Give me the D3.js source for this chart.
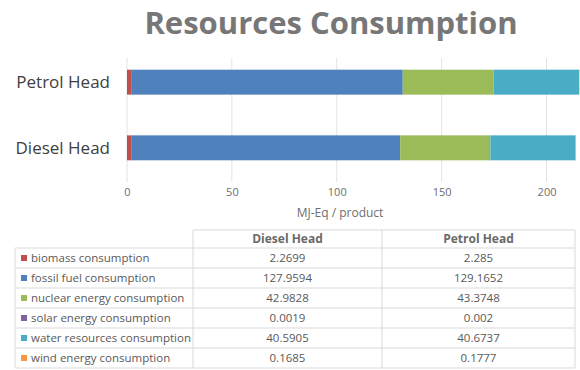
<!DOCTYPE html>
<meta charset="utf-8">
<head>
  <title>Resources Consumption</title>
</head>
<style>
    body {
        margin: 0;
        background-color: #ffffff;
    }
    svg text {
        font-family: "Open Sans", Lato, sans-serif;
    }
</style>
<body>
    <svg id="chart" width="580" height="370"></svg>

    <script src="https://cdn.jsdelivr.net/npm/d3@7/dist/d3.min.js"></script>
    <script>
        // chart data
        var products = ["Petrol Head", "Diesel Head"];
        var tableProducts = ["Diesel Head", "Petrol Head"];
        var resources = ["biomass consumption", "fossil fuel consumption", "nuclear energy consumption",
                         "solar energy consumption", "water resources consumption", "wind energy consumption"];
        var dieselValues = [2.2699, 127.9594, 42.9828, 0.0019, 40.5905, 0.1685];
        var petrolValues = [2.285, 129.1652, 43.3748, 0.002, 40.6737, 0.1777];
        var dieselLabels = ["2.2699", "127.9594", "42.9828", "0.0019", "40.5905", "0.1685"];
        var petrolLabels = ["2.285", "129.1652", "43.3748", "0.002", "40.6737", "0.1777"];
        var xTicks = [0, 50, 100, 150, 200];
        var colors = ["#c0504d", "#4f81bd", "#9bbb59", "#8064a2", "#4bacc6", "#f79646"];

        var svg = d3.select("#chart");

        var x = d3.scaleLinear()
            .domain([0, 215])
            .range([127, 578]);

        var y = d3.scaleBand()
            .domain(products)
            .range([50, 180])
            .paddingInner(0.62)
            .paddingOuter(0.3);

        var color = d3.scaleOrdinal(resources, colors);

        // title
        svg.append("text")
            .attr("x", 331)
            .attr("y", 34)
            .attr("text-anchor", "middle")
            .style("font-size", "31px")
            .style("font-weight", "bold")
            .style("fill", "#777777")
            .text("Resources Consumption");

        // gridlines
        svg.append("g")
            .selectAll("line")
            .data(xTicks)
            .enter()
            .append("line")
            .attr("x1", function(d) { return x(d); })
            .attr("x2", function(d) { return x(d); })
            .attr("y1", 58)
            .attr("y2", 182)
            .style("stroke", "#e3e3e3")
            .style("stroke-width", 1);

        // stacked bars
        var rows = products.map(function(p) {
            var vals = p === "Diesel Head" ? dieselValues : petrolValues;
            var o = { product: p };
            resources.forEach(function(r, i) { o[r] = vals[i]; });
            return o;
        });

        var stack = d3.stack().keys(resources);
        var series = stack(rows);

        svg.append("g")
            .selectAll("g")
            .data(series)
            .enter()
            .append("g")
            .attr("fill", function(d) { return color(d.key); })
            .selectAll("rect")
            .data(function(d) { return d; })
            .enter()
            .append("rect")
            .attr("x", function(d) { return x(d[0]); })
            .attr("width", function(d) { return Math.max(0, x(d[1]) - x(d[0])); })
            .attr("y", function(d) { return y(d.data.product); })
            .attr("height", y.bandwidth());

        // category labels
        svg.append("g")
            .selectAll("text")
            .data(products)
            .enter()
            .append("text")
            .attr("x", 110)
            .attr("y", function(d) { return y(d) + y.bandwidth() / 2; })
            .attr("dy", "0.35em")
            .attr("text-anchor", "end")
            .style("font-size", "17px")
            .style("fill", "#404040")
            .text(function(d) { return d; });

        // x axis
        var xAxis = svg.append("g")
            .attr("transform", "translate(0,188)")
            .call(d3.axisBottom(x).tickValues(xTicks).tickSize(0).tickPadding(0));
        xAxis.select(".domain").remove();
        xAxis.selectAll("text")
            .style("font-size", "11px")
            .style("fill", "#6e6e6e")
            .style("font-family", "'Open Sans', sans-serif");

        svg.append("text")
            .attr("x", 340)
            .attr("y", 217)
            .attr("text-anchor", "middle")
            .style("font-size", "12px")
            .style("fill", "#6e6e6e")
            .text("MJ-Eq / product");

        // data table
        var colX = [15, 193, 382, 575];
        var headerTop = 230, rowH = 20, firstRow = 248;
        var table = svg.append("g");
        var lineColor = "#d9d9d9";

        // header cells
        table.append("line")
            .attr("x1", colX[1]).attr("x2", colX[3])
            .attr("y1", headerTop).attr("y2", headerTop)
            .style("stroke", lineColor);
        table.selectAll("text.head")
            .data(tableProducts)
            .enter()
            .append("text")
            .attr("class", "head")
            .attr("x", function(d, i) { return (colX[i + 1] + colX[i + 2]) / 2; })
            .attr("y", headerTop + 9)
            .attr("dy", "0.35em")
            .attr("text-anchor", "middle")
            .style("font-size", "12px")
            .style("font-weight", "bold")
            .style("fill", "#6a6a6a")
            .text(function(d) { return d; });

        // horizontal lines
        d3.range(resources.length + 1).forEach(function(i) {
            table.append("line")
                .attr("x1", colX[0]).attr("x2", colX[3])
                .attr("y1", firstRow + i * rowH).attr("y2", firstRow + i * rowH)
                .style("stroke", lineColor);
        });

        // vertical lines
        colX.forEach(function(cx, i) {
            table.append("line")
                .attr("x1", cx).attr("x2", cx)
                .attr("y1", i === 0 ? firstRow : headerTop)
                .attr("y2", firstRow + resources.length * rowH)
                .style("stroke", lineColor);
        });

        var rowG = table.selectAll("g.row")
            .data(resources)
            .enter()
            .append("g")
            .attr("class", "row")
            .attr("transform", function(d, i) { return "translate(0," + (firstRow + i * rowH + rowH / 2) + ")"; });

        rowG.append("rect")
            .attr("x", 21)
            .attr("y", -3)
            .attr("width", 6)
            .attr("height", 6)
            .attr("fill", function(d) { return color(d); });

        rowG.append("text")
            .attr("x", 31)
            .attr("dy", "0.35em")
            .style("font-size", "11.5px")
            .style("fill", "#595959")
            .text(function(d) { return d; });

        rowG.append("text")
            .attr("x", (colX[1] + colX[2]) / 2)
            .attr("dy", "0.35em")
            .attr("text-anchor", "middle")
            .style("font-size", "11.5px")
            .style("fill", "#595959")
            .text(function(d, i) { return dieselLabels[i]; });

        rowG.append("text")
            .attr("x", (colX[2] + colX[3]) / 2)
            .attr("dy", "0.35em")
            .attr("text-anchor", "middle")
            .style("font-size", "11.5px")
            .style("fill", "#595959")
            .text(function(d, i) { return petrolLabels[i]; });
    </script>
</body>
